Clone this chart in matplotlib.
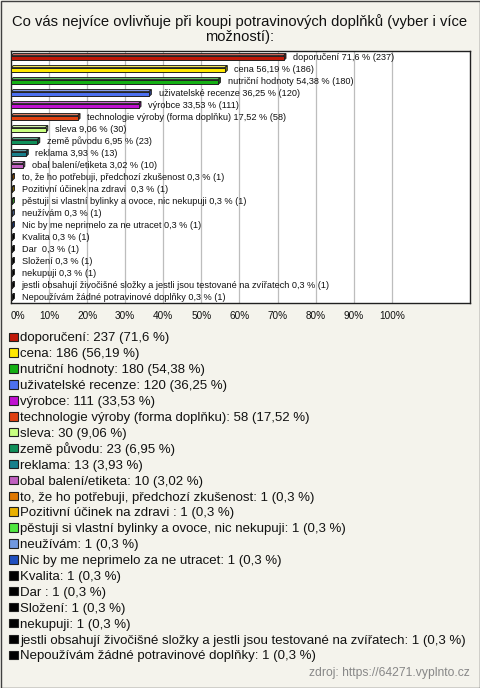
import matplotlib
matplotlib.use("Agg")
import matplotlib.pyplot as plt
from matplotlib.patches import Rectangle, Polygon
import matplotlib.colors as mcolors
import numpy as np

plt.rcParams['font.family'] = ['Liberation Sans', 'DejaVu Sans']

title = "Co vás nejvíce ovlivňuje při koupi potravinových doplňků (vyber i více\nmožností):"
categories = [
    "doporučení", "cena", "nutriční hodnoty", "uživatelské recenze", "výrobce",
    "technologie výroby (forma doplňku)", "sleva", "země původu", "reklama",
    "obal balení/etiketa", "to, že ho potřebuji, předchozí zkušenost",
    "Pozitivní účinek na zdravi ", "pěstuji si vlastní bylinky a ovoce, nic nekupuji",
    "neužívám", "Nic by me neprimelo za ne utracet", "Kvalita", "Dar ", "Složení",
    "nekupuji", "jestli obsahují živočišné složky a jestli jsou testované na zvířatech",
    "Nepoužívám žádné potravinové doplňky",
]
counts = [237, 186, 180, 120, 111, 58, 30, 23, 13, 10, 1, 1, 1, 1, 1, 1, 1, 1, 1, 1, 1]
percents = [71.6, 56.19, 54.38, 36.25, 33.53, 17.52, 9.06, 6.95, 3.93, 3.02,
            0.3, 0.3, 0.3, 0.3, 0.3, 0.3, 0.3, 0.3, 0.3, 0.3, 0.3]
colors = ["#C01808", "#FFE800", "#14B014", "#4C70F0", "#C010D0", "#E04010",
          "#C8FF80", "#10905A", "#18808C", "#C060C0", "#E07800", "#E8B000",
          "#50E840", "#7098E0", "#2050C0", "#000000", "#000000", "#000000",
          "#000000", "#000000", "#000000"]
xticks = [0, 10, 20, 30, 40, 50, 60, 70, 80, 90, 100]
xticklabels = ["0%", "10%", "20%", "30%", "40%", "50%", "60%", "70%", "80%", "90%", "100%"]
source = "zdroj: https://64271.vyplnto.cz"

W, H = 480, 688
BG = "#F4F3EC"
fig = plt.figure(figsize=(W / 100, H / 100), dpi=100, facecolor=BG)


def fx(px):
    return px / W


def fy(py):
    return 1 - py / H


def pct_str(v):
    return f"{v:g}".replace(".", ",")


# outer border
fig.add_artist(Rectangle((0.5 / W, 0.5 / H), 1 - 1 / W, 1 - 1 / H, transform=fig.transFigure,
                         fill=False, edgecolor="#404040", linewidth=1.0))

fig.text(0.5, fy(29), title, ha="center", va="center", fontsize=10.6, color="#111111",
         linespacing=1.05)

ax_l, ax_r, ax_t, ax_b = 11, 470, 51, 303
ax = fig.add_axes([fx(ax_l), fy(ax_b), fx(ax_r - ax_l), (ax_b - ax_t) / H])
ax.set_facecolor("white")
n = len(categories)
ax.set_xlim(0, (ax_r - ax_l - 1) / 3.8)
ax.set_ylim(n - 0.5, -0.5)
for s in ax.spines.values():
    s.set_color("#202020")
    s.set_linewidth(1.0)
for t in xticks[1:]:
    ax.axvline(t, color="#BDBDBD", linewidth=0.9, zorder=0)

h = 0.4
dx = 0.6
dy = 0.17
for i, (v, c) in enumerate(zip(percents, colors)):
    rgb = np.array(mcolors.to_rgb(c))
    top_c = tuple(rgb + (1 - rgb) * 0.35)
    side_c = tuple(rgb * 0.6)
    y0 = i + dy / 2 - h / 2  # top of front face
    y1 = i + dy / 2 + h / 2
    top = Polygon([(0, y0), (v, y0), (v + dx, y0 - dy), (dx, y0 - dy)], closed=True,
                  facecolor=top_c, edgecolor="#202020", linewidth=0.7, zorder=3)
    side = Polygon([(v, y0), (v + dx, y0 - dy), (v + dx, y1 - dy), (v, y1)], closed=True,
                   facecolor=side_c, edgecolor="#202020", linewidth=0.7, zorder=3)
    ax.add_patch(top)
    ax.add_patch(side)
    ax.barh(i + dy / 2, v, height=h, left=0, color=c, edgecolor="#202020", linewidth=0.7, zorder=4)
    ax.annotate(f"{categories[i]} {pct_str(v)} % ({counts[i]})", xy=(v + dx, i),
                xytext=(5.2, 0), textcoords="offset points", ha="left", va="center",
                fontsize=6.6, color="#111111", zorder=5)

ax.set_yticks([])
ax.set_xticks(xticks)
ax.set_xticklabels(xticklabels, fontsize=7.2, color="#111111")
ax.tick_params(axis="x", length=0, pad=5.5)
ax.get_xticklabels()[0].set_horizontalalignment("left")

# legend
leg_y0 = 337
leg_dy = 15.9
for k, (cat, cnt, v, c) in enumerate(zip(categories, counts, percents, colors)):
    yc = leg_y0 + k * leg_dy
    fig.add_artist(Rectangle((fx(9), fy(yc + 4.0)), 8.5 / W, 8.5 / H, transform=fig.transFigure,
                             facecolor=c, edgecolor="#202020", linewidth=0.8))
    fig.text(fx(20), fy(yc + 4.5), f"{cat}: {cnt} ({pct_str(v)} %)", ha="left", va="baseline",
             fontsize=9.55, color="#111111")

fig.text(fx(470), fy(673), source, ha="right", va="center", fontsize=8.7, color="#888888")

fig.savefig("out.png", dpi=100, facecolor=BG)
